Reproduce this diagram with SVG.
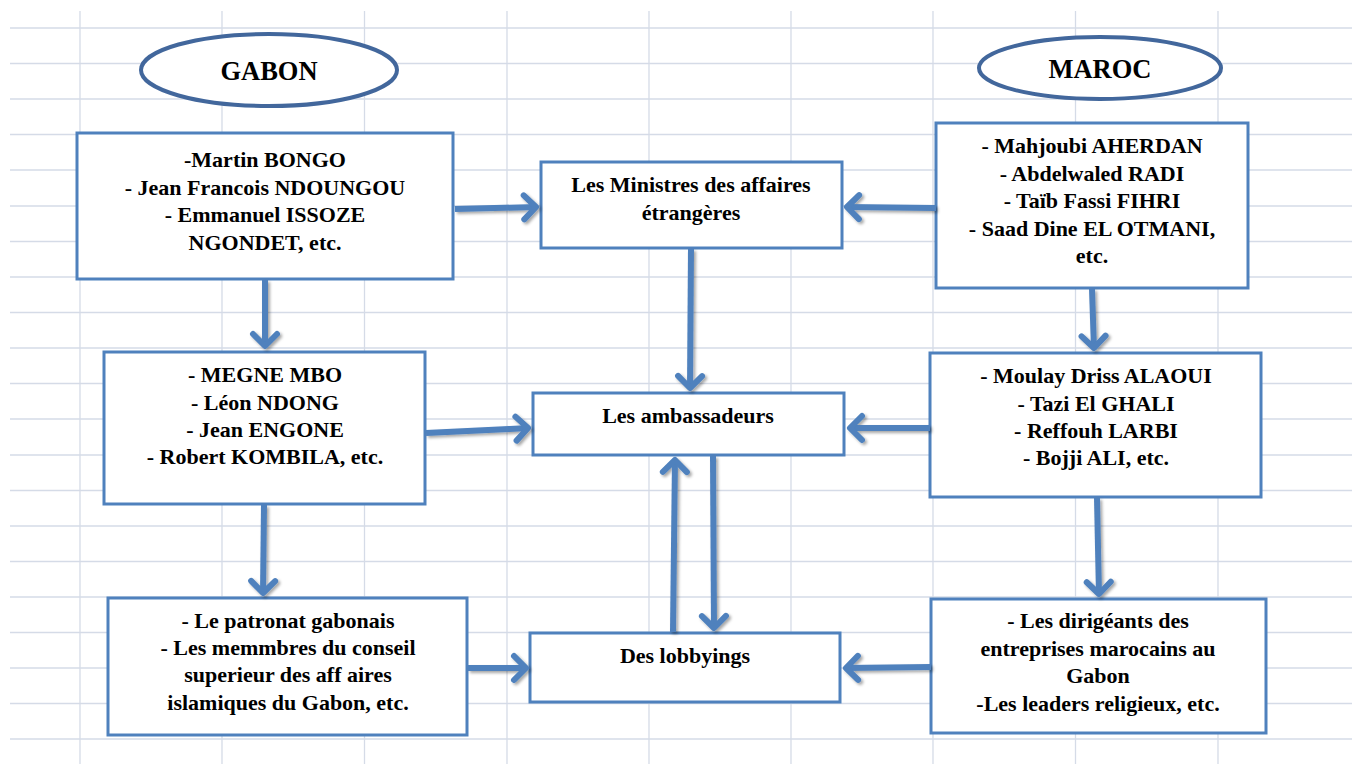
<svg xmlns="http://www.w3.org/2000/svg" width="1352" height="764" viewBox="0 0 1352 764">
<style>
.grid line{stroke:#d5dbe7;stroke-width:1.3}
.box{fill:#fff;stroke:#4f81bd;stroke-width:3}
.oval{fill:#fff;stroke:#42679c;stroke-width:4}
text{font-family:"Liberation Serif","Times New Roman",serif;font-weight:bold;font-size:22px;fill:#000;text-anchor:middle}
.title{font-size:26.5px}
.conn path{fill:none;stroke:#4f81bd;stroke-width:6;marker-end:url(#arr)}
</style>
<defs>
<marker id="arr" markerUnits="userSpaceOnUse" viewBox="-20 -17 25 34" refX="0" refY="0" markerWidth="25" markerHeight="34" orient="auto">
<path d="M-13,-12 L-1,0 L-13,12" fill="none" stroke="#4f81bd" stroke-width="6" stroke-linecap="round" stroke-linejoin="round"/>
</marker>
<filter id="sh" x="-20%" y="-20%" width="140%" height="140%">
<feDropShadow dx="2" dy="2" stdDeviation="1.5" flood-color="#000" flood-opacity="0.35"/>
</filter>
</defs>
<rect width="1352" height="764" fill="#fff"/>
<g class="grid">
<line x1="10" y1="28" x2="1352" y2="28"/>
<line x1="10" y1="63.5" x2="1352" y2="63.5"/>
<line x1="10" y1="99" x2="1352" y2="99"/>
<line x1="10" y1="134.5" x2="1352" y2="134.5"/>
<line x1="10" y1="170" x2="1352" y2="170"/>
<line x1="10" y1="206" x2="1352" y2="206"/>
<line x1="10" y1="241.5" x2="1352" y2="241.5"/>
<line x1="10" y1="277" x2="1352" y2="277"/>
<line x1="10" y1="312.5" x2="1352" y2="312.5"/>
<line x1="10" y1="348" x2="1352" y2="348"/>
<line x1="10" y1="383.5" x2="1352" y2="383.5"/>
<line x1="10" y1="419" x2="1352" y2="419"/>
<line x1="10" y1="455" x2="1352" y2="455"/>
<line x1="10" y1="490.5" x2="1352" y2="490.5"/>
<line x1="10" y1="526" x2="1352" y2="526"/>
<line x1="10" y1="561.5" x2="1352" y2="561.5"/>
<line x1="10" y1="597" x2="1352" y2="597"/>
<line x1="10" y1="632.5" x2="1352" y2="632.5"/>
<line x1="10" y1="668" x2="1352" y2="668"/>
<line x1="10" y1="703.5" x2="1352" y2="703.5"/>
<line x1="10" y1="739" x2="1352" y2="739"/>
<line x1="80" y1="11" x2="80" y2="764"/>
<line x1="222" y1="11" x2="222" y2="764"/>
<line x1="364.5" y1="11" x2="364.5" y2="764"/>
<line x1="507" y1="11" x2="507" y2="764"/>
<line x1="649" y1="11" x2="649" y2="764"/>
<line x1="791" y1="11" x2="791" y2="764"/>
<line x1="933" y1="11" x2="933" y2="764"/>
<line x1="1075.5" y1="11" x2="1075.5" y2="764"/>
<line x1="1218" y1="11" x2="1218" y2="764"/>
</g>
<g id="gabon">
<ellipse class="oval" cx="269" cy="70" rx="128" ry="36"/>
<text class="title" x="269" y="80">GABON</text>
</g>
<g id="maroc">
<ellipse class="oval" cx="1100" cy="68" rx="121" ry="31"/>
<text class="title" x="1100" y="78">MAROC</text>
</g>
<g id="gabon-dirigeants">
<rect class="box" x="77" y="133" width="376" height="146"/>
<text x="265" y="167">-Martin BONGO</text>
<text x="265" y="195">- Jean Francois NDOUNGOU</text>
<text x="265" y="222">- Emmanuel ISSOZE</text>
<text x="265" y="250">NGONDET, etc.</text>
</g>
<g id="ministres">
<rect class="box" x="541" y="162" width="301" height="86"/>
<text x="691" y="192">Les Ministres  des  affaires</text>
<text x="691" y="220">étrangères</text>
</g>
<g id="maroc-dirigeants">
<rect class="box" x="936" y="123" width="312" height="165"/>
<text x="1092" y="153">- Mahjoubi AHERDAN</text>
<text x="1092" y="181">- Abdelwaled RADI</text>
<text x="1092" y="208">- Taïb Fassi FIHRI</text>
<text x="1092" y="236">- Saad Dine EL OTMANI,</text>
<text x="1092" y="263">etc.</text>
</g>
<g id="gabon-ambassadeurs">
<rect class="box" x="104" y="352" width="321" height="152"/>
<text x="265" y="382">- MEGNE MBO</text>
<text x="265" y="410">- Léon NDONG</text>
<text x="265" y="437">- Jean ENGONE</text>
<text x="265" y="464">- Robert KOMBILA, etc.</text>
</g>
<g id="ambassadeurs">
<rect class="box" x="533" y="393" width="311" height="62"/>
<text x="688" y="423">Les ambassadeurs</text>
</g>
<g id="maroc-ambassadeurs">
<rect class="box" x="930" y="353" width="331" height="144"/>
<text x="1096" y="383">- Moulay Driss ALAOUI</text>
<text x="1096" y="411">- Tazi El GHALI</text>
<text x="1096" y="438">- Reffouh LARBI</text>
<text x="1096" y="465">- Bojji ALI, etc.</text>
</g>
<g id="gabon-lobby">
<rect class="box" x="108" y="598" width="359" height="137"/>
<text x="288" y="628">- Le patronat gabonais</text>
<text x="288" y="655">- Les memmbres du conseil</text>
<text x="288" y="682">superieur des aff aires</text>
<text x="288" y="710">islamiques du  Gabon, etc.</text>
</g>
<g id="lobbyings">
<rect class="box" x="530" y="633" width="310" height="69"/>
<text x="685" y="663">Des lobbyings</text>
</g>
<g id="maroc-lobby">
<rect class="box" x="931" y="599" width="335" height="134"/>
<text x="1098" y="628">- Les dirigéants des</text>
<text x="1098" y="656">entreprises marocains au</text>
<text x="1098" y="683">Gabon</text>
<text x="1098" y="711">-Les leaders religieux, etc.</text>
</g>
<g class="conn" filter="url(#sh)">
<path d="M455,209 L537,207"/>
<path d="M936,208 L846,207"/>
<path d="M691,249 L690,389"/>
<path d="M265,280 L265,347"/>
<path d="M1092,289 L1094,349"/>
<path d="M426,433 L529,428"/>
<path d="M930,428 L849,428"/>
<path d="M264,505 L263,594"/>
<path d="M1097,498 L1099,595"/>
<path d="M673,632 L675,459"/>
<path d="M713,456 L714,629"/>
<path d="M468,668 L527,668"/>
<path d="M931,667 L845,668"/>
</g>
</svg>
